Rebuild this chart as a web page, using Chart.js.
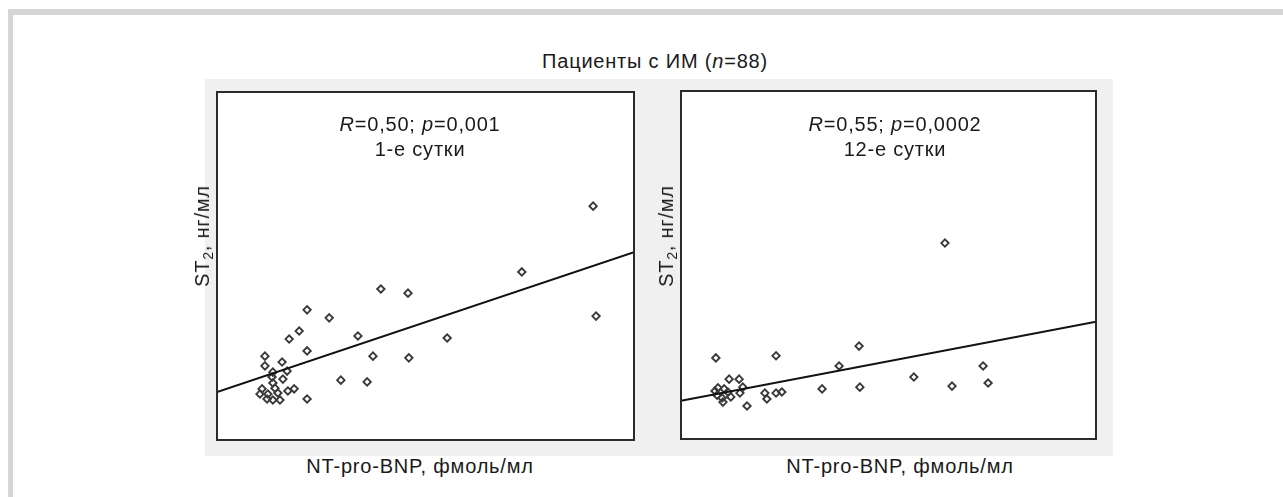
<!DOCTYPE html>
<html><head><meta charset="utf-8">
<script src="https://cdn.jsdelivr.net/npm/chart.js@4.4.1/dist/chart.umd.min.js"></script>
<style>
html,body{margin:0;padding:0;background:#fff;width:1283px;height:497px;overflow:hidden;font-family:"Liberation Sans",Arial,sans-serif;color:#1a1a1a;}
.frame{position:absolute;left:8px;top:9px;width:1275px;height:488px;border-top:6px solid #d6d6d6;border-left:5px solid #d6d6d6;box-sizing:border-box;}
.panelbg{position:absolute;left:205px;top:79px;width:908px;height:377px;background:#f0f0f0;}
.t{position:absolute;white-space:nowrap;font-size:20px;letter-spacing:0.8px;line-height:1;transform:translate(-50%,-50%);}
.rot{transform:translate(-50%,-50%) rotate(-90deg);}
sub{font-size:70%;vertical-align:-0.25em;line-height:0;}
canvas{position:absolute;}
</style>
</head><body>
<div class="frame"></div>
<div class="panelbg"></div>
<canvas id="c1" width="437" height="368" style="left:207px;top:82px;"></canvas>
<canvas id="c2" width="435" height="368" style="left:671px;top:81px;"></canvas>
<div class="t" style="left:655px;top:61px;">Пациенты с ИМ (<i>n</i>=88)</div>
<div class="t" style="left:420px;top:124px;"><i>R</i>=0,50; <i>p</i>=0,001</div>
<div class="t" style="left:420px;top:149px;">1-е сутки</div>
<div class="t" style="left:895px;top:124px;"><i>R</i>=0,55; <i>p</i>=0,0002</div>
<div class="t" style="left:895px;top:149px;">12-е сутки</div>
<div class="t rot" style="left:202px;top:236px;">ST<sub>2</sub>, нг/мл</div>
<div class="t rot" style="left:666px;top:236px;">ST<sub>2</sub>, нг/мл</div>
<div class="t" style="left:420px;top:466px;">NT-pro-BNP, фмоль/мл</div>
<div class="t" style="left:900px;top:466px;">NT-pro-BNP, фмоль/мл</div>
<script>
// Day 1: NT-pro-BNP (x, relative units) vs ST2 (y, relative units)
const day1X = [90.2,73.1,90.9,39.3,45.8,21.6,26.9,19.7,17.3,33.8,55.2,21.6,37.4,46.0,11.5,11.5,15.6,29.7,36.0,21.6,13.4,16.8,13.2,15.8,13.4,10.8,17.0,18.5,10.3,12.2,14.6,12.0,13.4,15.1,13.9];
const day1Y = [67.2,48.3,35.6,43.4,42.2,37.4,35.1,31.3,29.0,29.9,29.3,25.6,24.1,23.6,24.1,21.3,22.4,17.2,16.7,11.8,19.5,19.8,18.1,17.5,16.4,14.7,14.1,14.7,13.2,13.2,13.5,11.8,11.5,11.5,14.9];
// Day 12
const day12X = [63.6,42.9,22.9,8.4,38.1,72.8,56.1,74.0,65.3,43.1,34.0,15.9,8.2,8.9,10.4,11.3,8.7,9.9,12.0,10.1,11.6,14.0,14.9,14.2,20.2,20.7,22.9,24.3];
const day12Y = [56.3,26.7,23.9,23.3,21.0,21.0,17.8,16.1,15.2,14.9,14.4,9.5,13.8,14.7,14.4,13.5,12.6,11.8,12.1,10.6,17.2,17.2,14.9,13.2,13.2,11.5,13.2,13.5];
// Regression lines (endpoints at axis min / max)
const fitX = [0, 100];
const day1FitY = [13.8, 54.0];
const day12FitY = [11.0, 33.7];

const areaPlugin = {
  id:'area',
  beforeDatasetsDraw(chart){
    const {ctx, chartArea:a} = chart;
    ctx.save(); ctx.fillStyle='#ffffff';
    ctx.fillRect(a.left, a.top, a.right-a.left, a.bottom-a.top);
    ctx.restore();
  },
  afterDraw(chart){
    const {ctx, chartArea:a} = chart;
    ctx.save(); ctx.strokeStyle='#2b2b2b'; ctx.lineWidth=2;
    ctx.strokeRect(a.left, a.top, a.right-a.left, a.bottom-a.top);
    ctx.restore();
  }
};

function makeChart(id, xs, ys, fitY){
  new Chart(document.getElementById(id), {
    type:'scatter',
    data:{datasets:[
      {type:'line', data: fitX.map((x,i)=>({x:x, y:fitY[i]})), borderColor:'#111', borderWidth:2, pointRadius:0, fill:false, order:0},
      {data: xs.map((x,i)=>({x:x, y:ys[i]})), pointStyle:'rectRot', pointRadius:3.7, borderColor:'#3a3a3a', borderWidth:1.9, backgroundColor:'rgba(255,255,255,0)', order:1}
    ]},
    options:{
      responsive:false, animation:false, devicePixelRatio:1,
      layout:{padding:10},
      plugins:{legend:{display:false}, tooltip:{enabled:false}},
      scales:{x:{type:'linear', min:0, max:100, display:false}, y:{type:'linear', min:0, max:100, display:false}}
    },
    plugins:[areaPlugin]
  });
}
makeChart('c1', day1X, day1Y, day1FitY);
makeChart('c2', day12X, day12Y, day12FitY);
</script>
</body></html>
